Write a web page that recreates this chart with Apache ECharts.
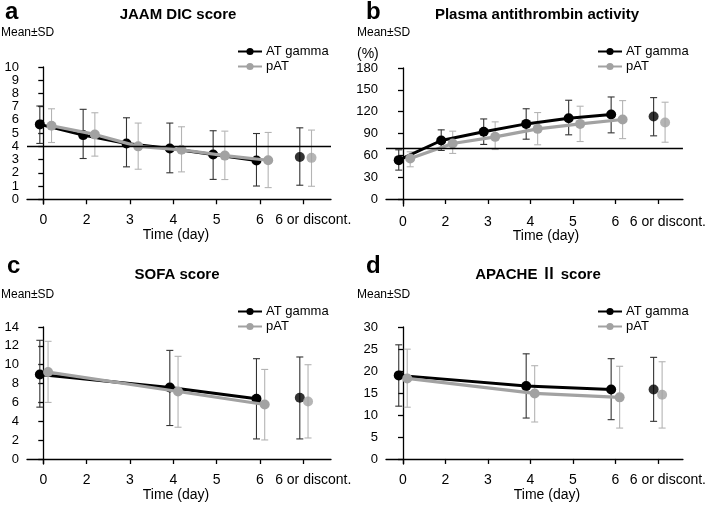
<!DOCTYPE html>
<html><head><meta charset="utf-8">
<script src="https://cdn.jsdelivr.net/npm/echarts@6/dist/echarts.min.js"></script>
<style>html,body{margin:0;padding:0;background:#fff}#c{width:709px;height:505px}</style>
</head><body><div id="c"></div>
<script>
const cats = ['0','2','3','4','5','6','6 or discont.'];
// Panel a: JAAM DIC score
const aIdx = [0,1,2,3,4,5,6];
const aBlackMean = [5.66,4.85,4.22,3.84,3.38,2.93,3.2];
const aBlackHi   = [7.05,6.8,6.16,5.76,5.18,4.97,5.4];
const aBlackLo   = [4.22,3.08,2.45,2.0,1.5,1.0,1.06];
const aGrayMean  = [5.56,4.9,4.0,3.74,3.3,2.95,3.13];
const aGrayHi    = [6.84,6.54,5.76,5.48,5.15,5.05,5.23];
const aGrayLo    = [4.29,3.26,2.27,2.07,1.49,0.88,0.98];
const aTicks = [0,1,2,3,4,5,6,7,8,9,10];
const aRef = 4;
// Panel b: Plasma antithrombin activity
const bIdx = [0,1,2,3,4,5,6];
const bBlackMean = [53.4,80.4,92.3,103.2,111,116,113.3];
const bBlackHi   = [67.6,95,110,124,135.7,140.2,139.3];
const bBlackLo   = [39.7,66.7,75,82.2,88.2,90.9,86.8];
const bGrayMean  = [55.7,76.3,85.4,96.4,103.2,109.2,105];
const bGrayHi    = [64.9,93.2,106,118.8,127.5,135.2,133];
const bGrayLo    = [44.3,62.6,68,74.5,79,83,78];
const bTicks = [0,30,60,90,120,150,180];
const bRef = 70;
// Panel c: SOFA score
const cIdx = [0,3,5,6];
const cBlackMean = [8.97,7.59,6.38,6.49];
const cBlackHi   = [12.59,11.52,10.64,10.82];
const cBlackLo   = [5.5,3.55,2.13,2.13];
const cGrayMean  = [9.22,7.16,5.78,6.1];
const cGrayHi    = [12.48,10.89,9.5,10.0];
const cGrayLo    = [6.0,3.37,2.02,2.23];
const cTicks = [0,2,4,6,8,10,12,14];
// Panel d: APACHE II score
const dIdx = [0,3,5,6];
const dBlackMean = [19.0,16.56,15.8,15.8];
const dBlackHi   = [25.95,23.9,22.8,23.1];
const dBlackLo   = [12.0,9.3,8.93,8.55];
const dGrayMean  = [18.3,14.9,14.0,14.58];
const dGrayHi    = [24.96,21.2,21.07,22.1];
const dGrayLo    = [11.76,8.4,7.02,7.02];
const dTicks = [0,5,10,15,20,25,30];

const BLACK = '#000000', GRAY = '#a2a2a2', EBLACK = '#333333', EGRAY = '#b4b4b4';
const FONT = '"Liberation Sans", Arial, "Noto Sans CJK JP", sans-serif';

const panels = [
  {idx:aIdx,bm:aBlackMean,bh:aBlackHi,bl:aBlackLo,gm:aGrayMean,gh:aGrayHi,gl:aGrayLo,ticks:aTicks,ref:aRef,
   grid:{left:27,top:67,width:304,height:137},ymin:-0.36,xmin:-0.376,xmax:6.64,ob:-0.08,og:0.19},
  {idx:bIdx,bm:bBlackMean,bh:bBlackHi,bl:bBlackLo,gm:bGrayMean,gh:bGrayHi,gl:bGrayLo,ticks:bTicks,ref:bRef,
   grid:{left:386,top:68,width:302,height:138},ymin:-9.6,xmin:-0.40,xmax:6.59,ob:-0.1,og:0.17},
  {idx:cIdx,bm:cBlackMean,bh:cBlackHi,bl:cBlackLo,gm:cGrayMean,gh:cGrayHi,gl:cGrayLo,ticks:cTicks,ref:null,
   grid:{left:27,top:327,width:304,height:137},ymin:-0.53,xmin:-0.376,xmax:6.64,ob:-0.08,og:0.11},
  {idx:dIdx,bm:dBlackMean,bh:dBlackHi,bl:dBlackLo,gm:dGrayMean,gh:dGrayHi,gl:dGrayLo,ticks:dTicks,ref:null,
   grid:{left:386,top:327,width:302,height:137},ymin:-1.15,xmin:-0.40,xmax:6.59,ob:-0.1,og:0.1}
];

function errRender(color){
  return function(params, api){
    const x = api.value(0), lo = api.value(1), hi = api.value(2);
    const p1 = api.coord([x, hi]), p2 = api.coord([x, lo]);
    const w = 3.5;
    const st = {stroke:color, lineWidth:1.1};
    return {type:'group', children:[
      {type:'line', shape:{x1:p1[0],y1:p1[1],x2:p2[0],y2:p2[1]}, style:st},
      {type:'line', shape:{x1:p1[0]-w,y1:p1[1],x2:p1[0]+w,y2:p1[1]}, style:st},
      {type:'line', shape:{x1:p2[0]-w,y1:p2[1],x2:p2[0]+w,y2:p2[1]}, style:st}
    ]};
  };
}

const grids=[], xAxes=[], yAxes=[], series=[];
const lastCat = cats.length - 1;
panels.forEach((p,i)=>{
  grids.push(p.grid);
  xAxes.push({type:'value', gridIndex:i, min:p.xmin, max:p.xmax,
    axisLine:{show:true, lineStyle:{color:'#000', width:1.3}},
    axisTick:{show:true, length:5, customValues:cats.map((c,k)=>k), lineStyle:{color:'#000',width:1.3}},
    axisLabel:{customValues:cats.map((c,k)=>k), margin:9, fontSize:14, color:'#000', fontFamily:FONT,
      hideOverlap:false, showMinLabel:true, showMaxLabel:true,
      formatter:(v)=> v===lastCat ? '{d|'+cats[v]+'}' : cats[v],
      rich:{d:{fontSize:14, color:'#000', fontFamily:FONT, padding:[0,0,0,20]}}},
    splitLine:{show:false}});
  yAxes.push({type:'value', gridIndex:i, min:p.ymin, max:p.ticks[p.ticks.length-1],
    axisLine:{show:true, lineStyle:{color:'#000', width:1.3}},
    axisTick:{show:true, length:5, customValues:p.ticks, lineStyle:{color:'#000',width:1.3}},
    axisLabel:{customValues:p.ticks, margin:8, fontSize:13, lineHeight:10, color:'#000', fontFamily:FONT,
      hideOverlap:false, showMinLabel:true, showMaxLabel:true},
    splitLine:{show:false}});
  const n = p.idx.length - 1;
  const mk = (off, arr) => p.idx.map((k,j)=>[k+off, arr[j]]);
  const bPts = mk(p.ob, p.bm), gPts = mk(p.og, p.gm);
  const errB = p.idx.map((k,j)=>[k+p.ob, p.bl[j], p.bh[j]]);
  const errG = p.idx.map((k,j)=>[k+p.og, p.gl[j], p.gh[j]]);
  series.push({type:'custom', name:'errB'+i, xAxisIndex:i, yAxisIndex:i, renderItem:errRender(EBLACK),
    data:errB, encode:{x:0,y:[1,2]}, z:1, silent:true});
  series.push({type:'custom', name:'errG'+i, xAxisIndex:i, yAxisIndex:i, renderItem:errRender(EGRAY),
    data:errG, encode:{x:0,y:[1,2]}, z:1, silent:true});
  const line0 = {type:'line', name:'AT gamma', xAxisIndex:i, yAxisIndex:i, data:bPts.slice(0,n),
    symbol:'circle', symbolSize:10, lineStyle:{color:BLACK,width:3}, itemStyle:{color:BLACK}, z:3, animation:false};
  if (p.ref !== null){
    line0.markLine = {silent:true, symbol:'none', label:{show:false}, lineStyle:{color:'#000',width:1.3,type:'solid'},
      data:[{yAxis:p.ref}], animation:false};
  }
  series.push(line0);
  series.push({type:'line', name:'pAT', xAxisIndex:i, yAxisIndex:i, data:gPts.slice(0,n),
    symbol:'circle', symbolSize:10, lineStyle:{color:GRAY,width:3.2}, itemStyle:{color:GRAY}, z:4, animation:false});
  series.push({type:'scatter', name:'lastB'+i, xAxisIndex:i, yAxisIndex:i, data:bPts.slice(n),
    symbol:'circle', symbolSize:10, itemStyle:{color:BLACK}, z:3, animation:false});
  series.push({type:'scatter', name:'lastG'+i, xAxisIndex:i, yAxisIndex:i, data:gPts.slice(n),
    symbol:'circle', symbolSize:10, itemStyle:{color:GRAY}, z:4, animation:false});
});

const legendPos = [[232,40],[592,40],[232,300],[592,300]];
const legends = legendPos.map(([l,t])=>({left:l, top:t, orient:'vertical', data:['AT gamma','pAT'],
  itemWidth:24, itemHeight:9, itemGap:2, selectedMode:false,
  textStyle:{fontSize:13, color:'#000', fontFamily:FONT, lineHeight:11, padding:[0,0,0,-1]}}));

const tt = (text, left, top, size, bold, align) => ({text, left, top, textAlign:align||'left', padding:0,
  textStyle:{fontSize:size, fontWeight:bold?'bold':'normal', color:'#000', fontFamily:FONT}});
const titles = [
  tt('a', 5, 0, 24, true), tt('b', 366, 0, 24, true), tt('c', 7, 254, 24, true), tt('d', 366, 254, 24, true),
  tt('JAAM DIC score', 178, 7, 15, true, 'center'),
  tt('Plasma antithrombin activity', 537, 7, 15, true, 'center'),
  tt('SOFA score', 177, 267, 15, true, 'center'),
  tt('APACHE Ⅱ score', 538, 267, 15, true, 'center'),
  tt('Mean±SD', 1, 27, 12, false), tt('Mean±SD', 357, 27, 12, false),
  tt('Mean±SD', 1, 289, 12, false), tt('Mean±SD', 357, 289, 12, false),
  tt('(%)', 357, 47, 14, false),
  tt('Time (day)', 176, 228, 14, false, 'center'), tt('Time (day)', 546, 229, 14, false, 'center'),
  tt('Time (day)', 176, 488, 14, false, 'center'), tt('Time (day)', 547, 488, 14, false, 'center')
];

const chart = echarts.init(document.getElementById('c'), null, {renderer:'canvas'});
chart.setOption({animation:false, backgroundColor:'#fff', title:titles, legend:legends,
  grid:grids, xAxis:xAxes, yAxis:yAxes, series:series});
</script></body></html>
